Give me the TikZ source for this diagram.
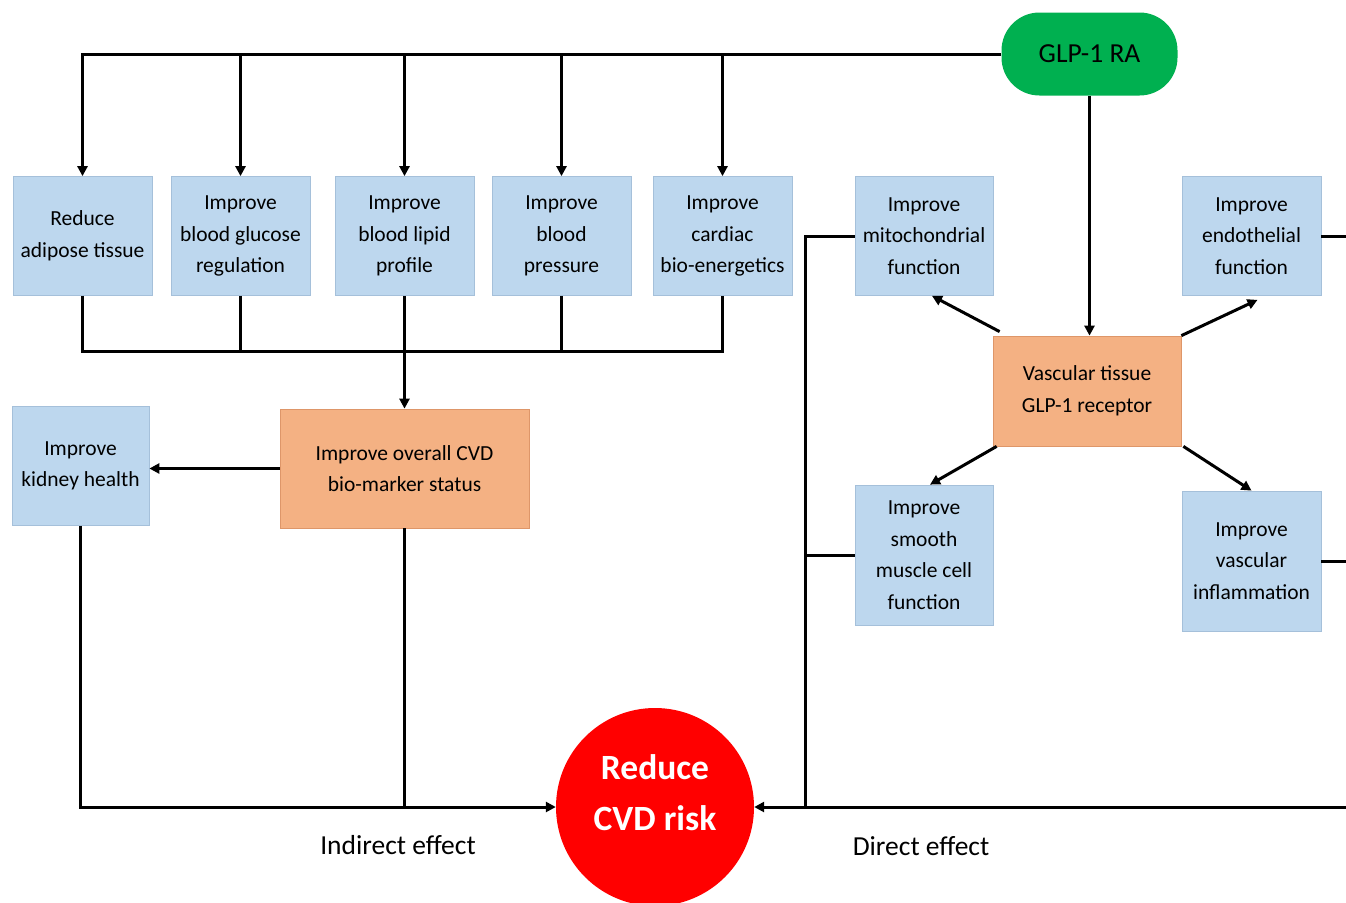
\documentclass[tikz,border=0pt]{standalone}
\usepackage{fontspec}
\setmainfont{Carlito}
\usetikzlibrary{arrows.meta}
\definecolor{boxblue}{RGB}{189,215,238}
\definecolor{boxblueline}{RGB}{165,192,218}
\definecolor{boxorange}{RGB}{244,177,131}
\definecolor{boxorangeline}{RGB}{222,150,105}
\definecolor{glpgreen}{RGB}{0,176,80}
\definecolor{riskred}{RGB}{255,0,0}
\begin{document}
\begin{tikzpicture}[x=1pt,y=-1pt,
  boxtext/.style={font=\fontsize{21.5}{31.5}\selectfont, align=center, text=black},
  bluebox/.style={boxtext, draw=boxblueline, line width=0.75pt, fill=boxblue, minimum width=139, minimum height=119, inner sep=0pt},
  orangebox/.style={boxtext, draw=boxorangeline, line width=0.75pt, fill=boxorange, inner sep=0pt},
  conn/.style={line width=3pt, black},
  arr/.style={conn, -{Triangle[length=10pt,width=10pt]}},
  lbl/.style={font=\fontsize{27.5}{32}\selectfont, text=black}
]
\clip (0,0) rectangle (1346,902);
\fill[white] (0,0) rectangle (1346,902);

% top source
\node[fill=glpgreen, rounded corners=38pt, minimum width=176, minimum height=83, inner sep=0pt,
      font=\fontsize{27.5}{32}\selectfont] (glp) at (1089.5,54) {GLP-1 RA};

% first row (indirect)
\node[bluebox] (b1) at (82.5,236) {Reduce\\adipose tissue};
\node[bluebox] (b2) at (240.5,236) {Improve\\blood glucose\\regulation};
\node[bluebox] (b3) at (404.5,236) {Improve\\blood lipid\\profile};
\node[bluebox] (b4) at (561.5,236) {Improve\\blood\\pressure};
\node[bluebox] (b5) at (722.5,236) {Improve\\cardiac\\bio-energetics};

\node[orangebox, minimum width=249, minimum height=119] (cvd) at (404.5,468.5) {Improve overall CVD\\bio-marker status};
\node[bluebox, minimum width=137] (kid) at (80.5,466) {Improve\\kidney health};

% direct side
\node[bluebox, minimum width=138] (mito) at (924,236) {Improve\\mitochondrial\\function};
\node[bluebox] (endo) at (1251.5,236) {Improve\\endothelial\\function};
\node[orangebox, minimum width=188, minimum height=110] (vasc) at (1087,391) {Vascular tissue\\GLP-1 receptor};
\node[bluebox, minimum width=138, minimum height=140] (smooth) at (924,555) {Improve\\smooth\\muscle cell\\function};
\node[bluebox, minimum height=140] (infl) at (1251.5,561) {Improve\\vascular\\inflammation};

% outcome
\node[circle, fill=riskred, minimum size=198, inner sep=0pt] (risk) at (655,807) {};
\node[align=center, text=white, font=\bfseries\fontsize{35.5}{51}\selectfont] (risktext) at (655,793) {Reduce\\CVD risk};

\node[lbl] (ind) at (398,845) {Indirect effect};
\node[lbl] (dir) at (921,846) {Direct effect};

% helper coordinates
\coordinate (bus) at (0,351);
\coordinate (redge) at (1346,807);
\coordinate (vx) at (805,807);

% GLP-1 RA to indirect row
\draw[arr] (glp.west) -| (b1.north);
\foreach \b in {b2,b3,b4,b5} \draw[arr] (\b.north |- glp.west) -- (\b.north);

% collecting bus
\draw[conn] (b1.south) |- (bus -| b5.south) -- (b5.south);
\foreach \b in {b2,b4} \draw[conn] (\b.south) -- (\b.south |- bus);
\draw[arr] (b3.south) -- (cvd.north);

\draw[arr] (cvd.west) -- (cvd.west -| kid.east);
\draw[arr] (kid.south) |- (risk.west);
\draw[conn] (cvd.south) -- (cvd.south |- risk.west);

% direct effects
\draw[arr] (glp.south) -- (glp.south |- vasc.north);
\draw[arr] ([xshift=7,yshift=4]vasc.north west) -- ([xshift=8]mito.south);
\draw[arr] (vasc.north east) -- ([xshift=6,yshift=-4]endo.south);
\draw[arr] ([xshift=4]vasc.south west) -- ([xshift=6]smooth.north);
\draw[arr] ([xshift=2]vasc.south east) -- (infl.north);

\draw[conn] (mito.west) -| (vx);
\draw[conn] (smooth.west) -- (smooth.west -| vx);
\draw[conn] (endo.east) -- (endo.east -| redge);
\draw[conn] (infl.east) -- (infl.east -| redge);
\draw[arr] (redge) -- (risk.east);
\end{tikzpicture}
\end{document}
